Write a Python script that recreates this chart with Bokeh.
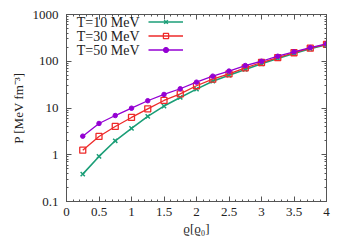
from bokeh.plotting import figure
from bokeh.models import (Range1d, LogAxis, LinearAxis, Legend, LegendItem, FixedTicker,
                          LogTicker, Label, CustomJSTickFormatter)
from bokeh.embed import file_html
from bokeh.resources import INLINE

rho = [0.25, 0.5, 0.75, 1.0, 1.25, 1.5, 1.75, 2.0, 2.25, 2.5, 2.75, 3.0, 3.25, 3.5, 3.75, 4.0]
p_t10 = [0.385, 0.92, 1.99, 3.65, 6.6, 11.0, 16.8, 25.3, 37.5, 50.3, 66.8, 88.0, 115, 147, 185, 225]
p_t30 = [1.25, 2.46, 4.03, 6.28, 9.6, 14.5, 20.0, 29.9, 41.4, 53.9, 72.5, 94.0, 120, 152, 190, 229]
p_t50 = [2.5, 4.67, 6.9, 9.9, 14.3, 19.5, 25.8, 35.7, 48.0, 61.6, 81.0, 100, 128, 159, 196, 236]
labels = ["T=10 MeV", "T=30 MeV", "T=50 MeV"]
x_ticks = [0, 0.5, 1, 1.5, 2, 2.5, 3, 3.5, 4]
x_minor = [i / 10 for i in range(41)]
y_ticks = [0.1, 1, 10, 100, 1000]

FONT = "Liberation Serif"
FS = "13px"
GREEN = "#1b9e77"
RED = "#ee2a2a"
PURPLE = "#9400d3"
FRAME = "#555555"
TXT = "#222222"

p = figure(frame_width=260, frame_height=187, output_backend="svg", toolbar_location=None,
           y_axis_type="log", x_range=Range1d(0, 4), y_range=Range1d(0.1, 1000),
           min_border_left=66, min_border_right=16, min_border_top=14, min_border_bottom=36)
p.grid.visible = False
p.outline_line_color = FRAME
p.outline_line_width = 1

def style(ax, show_labels=True):
    ax.axis_line_color = FRAME
    ax.major_tick_in = 5
    ax.major_tick_out = 0
    ax.minor_tick_in = 2
    ax.minor_tick_out = 0
    ax.major_tick_line_color = FRAME
    ax.minor_tick_line_color = FRAME
    ax.major_label_text_font = FONT
    ax.major_label_text_font_size = FS
    ax.major_label_text_color = TXT
    ax.axis_label_text_font = FONT
    ax.axis_label_text_font_size = FS
    ax.axis_label_text_font_style = "normal"
    ax.axis_label_text_color = TXT
    if not show_labels:
        ax.formatter = CustomJSTickFormatter(code="return ''")
        ax.major_label_standoff = 0

p.xaxis.ticker = FixedTicker(ticks=x_ticks, minor_ticks=x_minor)
p.yaxis.ticker = LogTicker(num_minor_ticks=10)
style(p.xaxis[0])
style(p.yaxis[0])
p.xaxis.major_label_overrides = {0: "0", 1: "1", 2: "2", 3: "3", 4: "4"}
p.yaxis.major_label_overrides = {0.1: "0.1", 1: "1", 10: "10", 100: "100", 1000: "1000"}
p.xaxis.axis_label = "ϱ[ϱ₀]"
p.yaxis.axis_label = "P [MeV fm⁻³]"
p.xaxis.major_label_standoff = 6
p.yaxis.major_label_standoff = 8
p.xaxis.axis_label_standoff = 2
p.yaxis.axis_label_standoff = 4

top = LinearAxis(ticker=FixedTicker(ticks=x_ticks, minor_ticks=x_minor))
style(top, False)
p.add_layout(top, "above")
right = LogAxis(ticker=LogTicker(num_minor_ticks=10))
style(right, False)
p.add_layout(right, "right")

l1 = p.line(rho, p_t10, line_color=GREEN, line_width=1.6)
m1 = p.scatter(rho, p_t10, marker="x", size=6, line_color=GREEN, line_width=1.5)
l2 = p.line(rho, p_t30, line_color=RED, line_width=1.3)
m2 = p.scatter(rho, p_t30, marker="square", size=6, line_color=RED, fill_color=None, line_width=1.3)
l3 = p.line(rho, p_t50, line_color=PURPLE, line_width=1.3)
m3 = p.scatter(rho, p_t50, marker="circle", size=4.5, line_color=PURPLE, fill_color=PURPLE)

legend = Legend(items=[LegendItem(label=" ", renderers=[l1, m1]),
                       LegendItem(label=" ", renderers=[l2, m2]),
                       LegendItem(label=" ", renderers=[l3, m3])],
                location=(82, 145), orientation="vertical",
                glyph_width=35, glyph_height=13, label_height=13, spacing=1,
                padding=0, margin=0, border_line_color=None, background_fill_alpha=0,
                label_text_font_size="6px", label_standoff=0, label_width=0)
p.add_layout(legend, "center")

for i, lab in enumerate(labels):
    p.add_layout(Label(x=73, y=179 - 14 * i, x_units="screen", y_units="screen", text=lab,
                       text_font=FONT, text_font_size="14px", text_color=TXT,
                       text_align="right", text_baseline="middle"))

open("out.html", "w").write(file_html(p, INLINE))
